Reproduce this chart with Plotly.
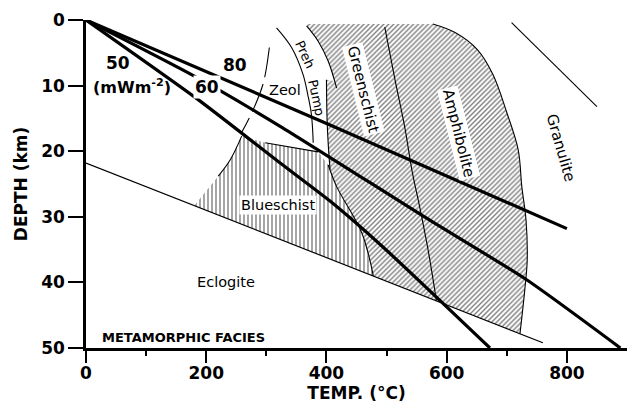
import plotly.graph_objects as go

# ---------------- data (temperature in °C, depth in km) ----------------
x_tick_vals = [0, 200, 400, 600, 800]
x_minor_vals = [100, 300, 500, 700]
y_tick_vals = [0, 10, 20, 30, 40, 50]

# geotherms (surface heat flow, mW m^-2)
geotherm_50_T = [0, 186, 323, 406, 494, 672]
geotherm_50_D = [0, 12.1, 21.8, 27.6, 34.6, 50]
geotherm_60_T = [0, 181, 323, 561, 733, 889]
geotherm_60_D = [0, 8.6, 16.2, 29.9, 39.6, 50]
geotherm_80_T = [0, 406, 800]
geotherm_80_D = [0, 16.0, 31.8]

# eclogite lower boundary
eclogite_T = [0, 760]
eclogite_D = [21.8, 49.2]

# greenschist + amphibolite field (diagonal hatch)
gs_amph_T = [367, 577, 614, 651, 677, 700, 719, 725, 732, 734, 730, 722,
             478, 459, 417, 406, 403, 401, 400, 413, 403, 386, 367]
gs_amph_D = [0.6, 0.6, 1.9, 4.5, 8.3, 14.1, 19.8, 25.4, 30.5, 36.6, 41.1, 47.8,
             39.0, 32.5, 25.4, 22.8, 19.0, 15.0, 9.1, 9.3, 6.3, 3.2, 0.9]

# blueschist field (vertical hatch)
blueschist_T = [180, 190, 220, 240, 259, 298, 386, 403, 417, 459, 478, 180]
blueschist_D = [28.3, 27.2, 23.8, 21.3, 17.7, 18.7, 20.1, 22.1, 25.4, 32.5, 39.0, 28.3]

# facies boundaries
amph_gran_T = [577, 614, 651, 677, 700, 719, 725, 732, 734, 730, 722]
amph_gran_D = [0.6, 1.9, 4.5, 8.3, 14.1, 19.8, 25.4, 30.5, 36.6, 41.1, 47.8]
gs_amph_line_T = [497, 514, 531, 542, 556, 569, 583]
gs_amph_line_D = [1.1, 9.1, 16.7, 22.8, 28.9, 35.0, 42.8]
gs_upper_curve_T = [367, 386, 403, 417]
gs_upper_curve_D = [0.9, 3.2, 6.3, 10.4]
gs_left_line_T = [400, 401, 403, 406]
gs_left_line_D = [9.1, 15.0, 19.0, 22.8]
zeol_preh_T = [317, 342, 361, 369, 375, 378]
zeol_preh_D = [1.2, 4.2, 8.3, 11.4, 14.4, 18.7]
zeol_dashed_T = [305, 295, 278, 258]
zeol_dashed_D = [4.2, 9.6, 13.7, 17.3]
bs_left_T = [259, 240, 220]
bs_left_D = [17.7, 21.3, 23.8]
bs_top_T = [298, 386]
bs_top_D = [18.7, 20.1]
bs_right_T = [403, 417, 459, 478]
bs_right_D = [22.1, 25.4, 32.5, 39.0]
granulite_line_T = [708, 850]
granulite_line_D = [0.4, 13.2]

# labels: (text, T, D, angle, size, bold, white background)
labels = [
    ("50", 53, 6.6, 0, 17, True, False),
    ("(mWm<sup>-2</sup>)", 77, 10.2, 0, 16, True, False),
    ("60", 201, 10.15, 0, 17, True, True),
    ("80", 248, 6.8, 0, 17, True, False),
    ("Zeol", 331, 10.6, 0, 14.5, False, False),
    ("Preh", 364, 5.3, 65, 13, False, False),
    ("Pump", 384, 11.9, 78, 13, False, False),
    ("Greenschist", 462, 10.6, 76, 15, False, True),
    ("Amphibolite", 620, 17.2, 76, 15, False, True),
    ("Granulite", 790, 19.5, 74, 15, False, False),
    ("Blueschist", 320, 28.2, 0, 14.5, False, True),
    ("Eclogite", 233, 39.9, 0, 14.5, False, False),
]
corner_label = "METAMORPHIC FACIES"
corner_T, corner_D = 23, 48.4

FONT = "DejaVu Sans"

fig = go.Figure()

# hatched fields
fig.add_trace(go.Scatter(
    x=gs_amph_T, y=gs_amph_D, mode="lines", fill="toself", fillcolor="white",
    line=dict(width=0, color="black"),
    fillpattern=dict(shape="/", fgcolor="black", bgcolor="white", size=3.5, solidity=0.4),
    hoverinfo="skip", showlegend=False))
fig.add_trace(go.Scatter(
    x=blueschist_T, y=blueschist_D, mode="lines", fill="toself", fillcolor="white",
    line=dict(width=0, color="black"),
    fillpattern=dict(shape="|", fgcolor="black", bgcolor="white", size=4, solidity=0.35),
    hoverinfo="skip", showlegend=False))


def thin(xs, ys, width=1.1, dash="solid", shape="spline"):
    fig.add_trace(go.Scatter(x=xs, y=ys, mode="lines",
                             line=dict(color="black", width=width, dash=dash, shape=shape),
                             hoverinfo="skip", showlegend=False))


thin(eclogite_T, eclogite_D, 1.2, shape="linear")
thin(amph_gran_T, amph_gran_D)
thin(gs_amph_line_T, gs_amph_line_D)
thin(gs_upper_curve_T, gs_upper_curve_D)
thin(gs_left_line_T, gs_left_line_D)
thin(zeol_preh_T, zeol_preh_D)
thin(zeol_dashed_T, zeol_dashed_D, 1.1, dash="30px,7px")
thin(bs_left_T, bs_left_D)
thin(bs_top_T, bs_top_D, shape="linear")
thin(bs_right_T, bs_right_D)
thin(granulite_line_T, granulite_line_D, shape="linear")

# geotherms
for gT, gD in [(geotherm_50_T, geotherm_50_D), (geotherm_60_T, geotherm_60_D),
               (geotherm_80_T, geotherm_80_D)]:
    fig.add_trace(go.Scatter(x=gT, y=gD, mode="lines",
                             line=dict(color="black", width=3.2, shape="spline", smoothing=0.6),
                             hoverinfo="skip", showlegend=False))

for text, t, d, ang, size, bold, bg in labels:
    fig.add_annotation(x=t, y=d, xref="x", yref="y", text=text, showarrow=False,
                       textangle=ang,
                       font=dict(family=FONT, size=size, color="black",
                                 weight="bold" if bold else "normal"),
                       bgcolor="white" if bg else "rgba(0,0,0,0)", borderpad=1)

fig.add_annotation(x=corner_T, y=corner_D, xref="x", yref="y", text=corner_label,
                   showarrow=False, xanchor="left",
                   font=dict(family=FONT, size=13, color="black", weight="bold"))

fig.update_layout(
    width=628, height=403,
    margin=dict(l=86, r=1, t=20, b=55, pad=0),
    plot_bgcolor="white", paper_bgcolor="white", showlegend=False,
    font=dict(family=FONT, color="black"),
)
fig.update_xaxes(
    range=[0, 900], showline=True, linecolor="black", linewidth=2.5,
    ticks="outside", ticklen=12, tickwidth=2, tickcolor="black",
    tickvals=x_tick_vals, tickfont=dict(family=FONT, size=17, weight="bold"),
    ticklabelstandoff=-4,
    minor=dict(ticks="outside", ticklen=5, tickwidth=1.5, tickcolor="black",
               tickvals=x_minor_vals),
    showgrid=False, zeroline=False, automargin=False,
    title=dict(text="TEMP. (°C)", font=dict(family=FONT, size=17, weight="bold"), standoff=11),
)
fig.update_yaxes(
    range=[50, 0], showline=True, linecolor="black", linewidth=2.5,
    ticks="outside", ticklen=15, tickwidth=2, tickcolor="black",
    tickvals=y_tick_vals, tickfont=dict(family=FONT, size=17, weight="bold"),
    showgrid=False, zeroline=False, automargin=False,
    title=dict(text="DEPTH (km)", font=dict(family=FONT, size=17, weight="bold"), standoff=10),
)

fig.write_html("out.html", config={"displayModeBar": False},
               post_script="document.body.style.margin='0';")
